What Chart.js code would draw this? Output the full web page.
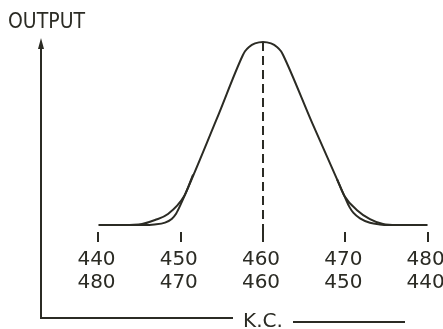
<!DOCTYPE html>
<html>
<head>
<meta charset="utf-8">
<script src="https://cdn.jsdelivr.net/npm/chart.js@4"></script>
<style>
    html, body { margin: 0; padding: 0; background: #fff; }
    #wrap { width: 443px; height: 329px; }
</style>
</head>
<body>
<div id="wrap"><canvas id="curveChart"></canvas></div>
<script>
// frequency ticks (kc) and their two label rows
const kcTicks = [440, 450, 460, 470, 480];
const kcLabelsTop = ['440', '450', '460', '470', '480'];
const kcLabelsBottom = ['480', '470', '460', '450', '440'];

// main response curve (sharp shoulders, rounded nose)
const curveKc  = [440, 445.5, 446.8, 448.09, 448.9, 449.45, 449.91, 454.4, 457.53, 457.81, 458.3, 459.03, 460, 460.97, 461.7, 462.19, 462.47, 466.0, 469.97, 470.5, 471.0, 471.79, 473.0, 474.2, 475.2, 480];
const curveOut = [0,   0,     0.3,   1.3,    3.3,   6.3,    10.4,   58.2,  92.6,   94.9,   97.3,  99.2,   100, 99.2,   97.3,  94.9,   92.6,   55.5,  15.1,   9.9,   6.6,   3.6,    1.2,   0.3,   0,     0];

// rounded shoulders that leave the curve a little higher
const leftShoulderKc   = [451.5, 450.4, 448.45, 446.87, 445.29, 443.8];
const leftShoulderOut  = [27.5,  15.7,  6.0,    2.7,    0.5,    0];
const rightShoulderKc  = [469.0, 469.9, 471.43, 473.0, 474.59, 475.7];
const rightShoulderOut = [25.0,  15.8,  8.1,    3.2,   0.5,    0];

// centre marker
const centreKc = [460, 460];
const centreOut = [100, -3.8];

const ink = '#2b2b24';
const font = "'DejaVu Sans', sans-serif";

function pts(xs, ys) {
    return xs.map((x, i) => ({ x: x, y: ys[i] }));
}

const frame = {
    id: 'frame',
    afterDraw(chart) {
        const ctx = chart.ctx;
        const area = chart.chartArea;
        const xs = chart.scales.x;
        const left = area.left + 1;
        ctx.save();
        ctx.strokeStyle = ink;
        ctx.fillStyle = ink;
        ctx.lineWidth = 2;
        // vertical axis with arrow, then the bottom line
        ctx.beginPath();
        ctx.moveTo(left, 46);
        ctx.lineTo(left, 318);
        ctx.lineTo(233, 318);
        ctx.stroke();
        ctx.beginPath();
        ctx.moveTo(left, 38);
        ctx.lineTo(left - 3, 49);
        ctx.lineTo(left + 3, 49);
        ctx.closePath();
        ctx.fill();
        ctx.beginPath();
        ctx.moveTo(293, 322);
        ctx.lineTo(405, 322);
        ctx.stroke();
        // texts
        ctx.font = "21px 'DejaVu Sans Condensed', " + font;
        ctx.textBaseline = 'alphabetic';
        ctx.textAlign = 'left';
        ctx.fillText('OUTPUT', 8, 28);
        ctx.font = '20px ' + font;
        ctx.textAlign = 'center';
        ctx.fillText('K.C.', xs.getPixelForValue(460), 327);
        ctx.restore();
    }
};

const lineStyle = {
    borderColor: ink,
    borderWidth: 2,
    pointRadius: 0,
    cubicInterpolationMode: 'monotone'
};

new Chart(document.getElementById('curveChart'), {
    type: 'line',
    data: {
        datasets: [
            Object.assign({ data: pts(curveKc, curveOut) }, lineStyle),
            Object.assign({ data: pts(leftShoulderKc, leftShoulderOut) }, lineStyle),
            Object.assign({ data: pts(rightShoulderKc, rightShoulderOut) }, lineStyle),
            {
                data: pts(centreKc, centreOut),
                borderColor: ink,
                borderWidth: 2,
                borderDash: [9, 5],
                pointRadius: 0
            }
        ]
    },
    options: {
        responsive: true,
        maintainAspectRatio: false,
        animation: false,
        layout: { padding: { left: 40, right: 0, top: 20, bottom: 0 } },
        scales: {
            x: {
                type: 'linear',
                min: 432.89,
                max: 481.88,
                afterBuildTicks: (scale) => {
                    scale.ticks = kcTicks.map(v => ({ value: v }));
                },
                afterFit: (scale) => {
                    scale.height = 97;
                    scale.paddingLeft = 0;
                    scale.paddingRight = 0;
                },
                border: { display: false },
                grid: {
                    drawOnChartArea: false,
                    drawTicks: true,
                    tickLength: 10,
                    color: ink,
                    lineWidth: 2
                },
                ticks: {
                    autoSkip: false,
                    maxRotation: 0,
                    padding: 6,
                    labelOffset: -2,
                    color: ink,
                    font: { size: 20, family: font, lineHeight: 1.15 },
                    callback: (value, index) => [kcLabelsTop[index], kcLabelsBottom[index]]
                }
            },
            y: {
                display: false,
                min: -3.83,
                max: 112
            }
        },
        plugins: {
            legend: { display: false },
            tooltip: { enabled: false }
        }
    },
    plugins: [frame]
});
</script>
</body>
</html>
